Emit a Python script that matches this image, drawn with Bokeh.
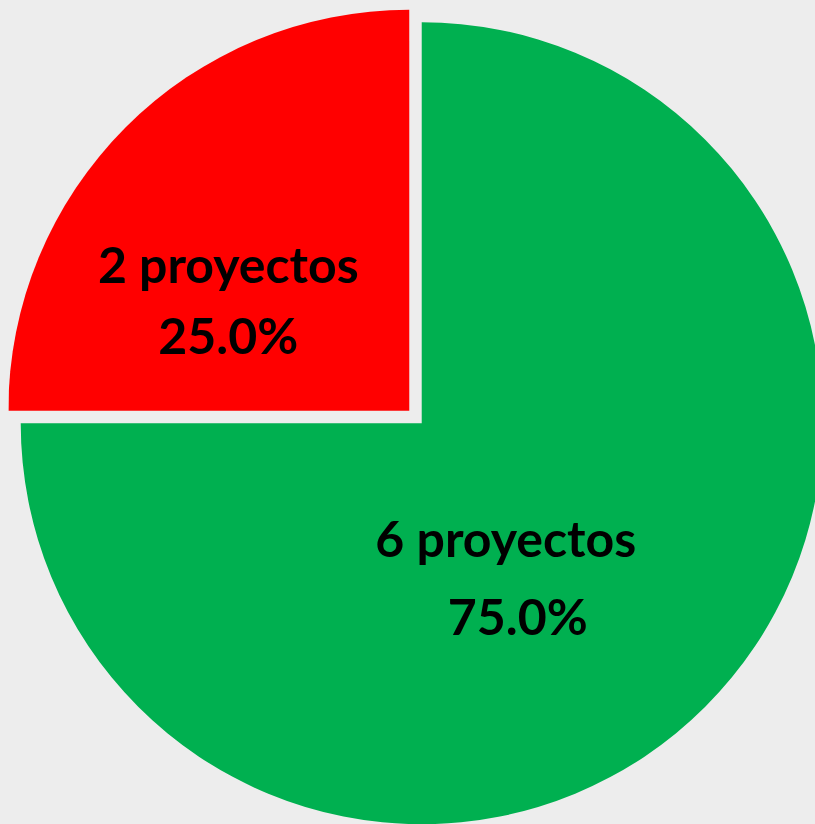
import math
from bokeh.plotting import figure
from bokeh.models import Range1d
from bokeh.core.properties import value
from bokeh.embed import file_html
from bokeh.resources import INLINE

# ---- data ----
categories = ["6 proyectos", "2 proyectos"]
counts = [6, 2]
colors = ["#00B050", "#FF0000"]

# ---- layout (pixel coordinates of the page image; y measured upward) ----
W, H = 807, 816
BG = "#EDEDED"
cx, cy = 415.0, 824 - 416.5
R = 401.0
explode = 8.8
# label offsets (dx, dy) from each slice's corner, for name line and percent line
label_offsets = [[(84, -115), (96, -193)], [(-181, 147), (-181, 76)]]

total = sum(counts)
p = figure(width=W, height=H, x_range=Range1d(8, 815), y_range=Range1d(0, 816),
           output_backend="svg", toolbar_location=None, min_border=0,
           background_fill_color=BG, border_fill_color=BG, outline_line_color=None)
p.axis.visible = False
p.grid.visible = False

# red slice starts at 90deg and goes counter-clockwise; green follows
red_start = math.pi / 2
red_end = red_start + 2 * math.pi * counts[1] / total
green_start, green_end = red_end, red_end + 2 * math.pi * counts[0] / total
spans = [(green_start, green_end), (red_start, red_end)]

for i, (s, e) in enumerate(spans):
    mid = (s + e) / 2
    ox = cx + explode * math.cos(mid)
    oy = cy + explode * math.sin(mid)
    p.wedge(x=[ox], y=[oy], radius=R, start_angle=s, end_angle=e,
            fill_color=colors[i], line_color=None)
    pct = f"{100 * counts[i] / total:.1f}%"
    for j, txt in enumerate([categories[i], pct]):
        dx, dy = label_offsets[i][j]
        p.text(x=[ox + dx], y=[oy + dy], text=[txt], text_font=value("Lato"),
               text_font_style="bold", text_font_size="50px", text_color="black",
               text_align="center", text_baseline="middle")

html = file_html(p, INLINE)
html = html.replace("<body>", f'<body style="margin:8px 0 0 8px;background:{BG};overflow:hidden">')
open("out.html", "w").write(html)
